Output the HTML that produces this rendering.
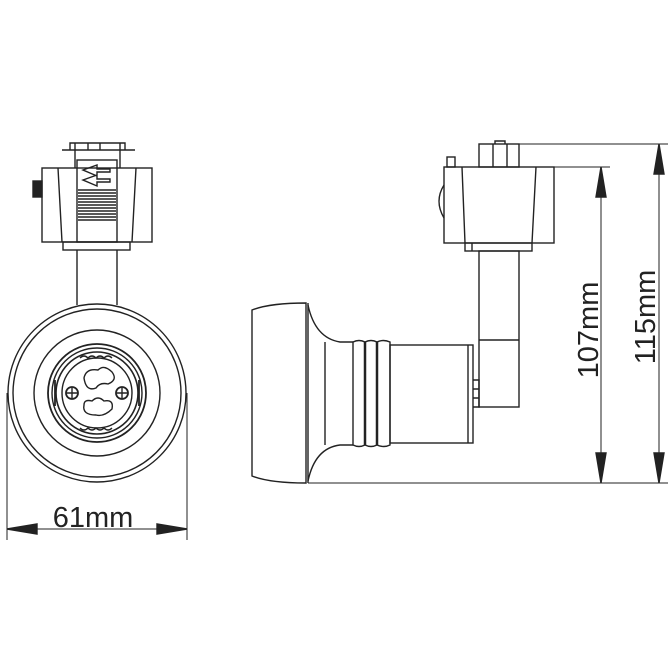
<!DOCTYPE html>
<html><head><style>body{margin:0;background:#fff}svg{display:block}</style></head><body>
<svg width="672" height="672" viewBox="0 0 672 672" xmlns="http://www.w3.org/2000/svg" fill="none" stroke="#222" stroke-width="1.4">
<!-- LEFT VIEW -->
<path d="M70 150 L70 143 L125 143 L125 150 M62 150 H135 M75 143 V168 M120 143 V168 M88 143 V150 M100 143 V150"/>
<rect x="42" y="168" width="110" height="74"/>
<path d="M58 168 L62 242 M136 168 L132 242"/>
<rect x="77" y="160" width="40" height="82"/>
<path d="M83 170 L97 165 V169 H110 V172 H97 V176 Z M83 180 L97 175 V179 H110 V182 H97 V186 Z"/>
<g stroke-width="1.6">
<path d="M78 190H116M78 193H116M78 196H116M78 199H116M78 202H116M78 205H116M78 208H116M78 211H116M78 214H116M78 217H116M78 220H116"/>
</g>
<rect x="33" y="181" width="9" height="16" fill="#222"/>
<rect x="63" y="242" width="67" height="8"/>
<path d="M77 250 V305 M117 250 V305"/>
<circle cx="97" cy="393" r="89"/>
<circle cx="97" cy="393" r="84"/>
<circle cx="97" cy="393" r="63"/>
<circle cx="97" cy="393" r="49" stroke-width="1.8"/>
<circle cx="97" cy="393" r="45"/>
<circle cx="97" cy="393" r="41" stroke-width="1.6"/>
<circle cx="97" cy="393" r="35"/>
<path d="M80 358 q4 -4 8 0 q4 -4 8 0 q4 -4 8 0 q4 -4 8 0 M80 428 q4 4 8 0 q4 4 8 0 q4 4 8 0 q4 4 8 0"/>
<path d="M84 378 q2 -10 14 -8 q6 -6 14 2 q6 8 -4 12 q-8 -2 -12 4 q-10 4 -12 -10 Z"/>
<path d="M84 405 q-2 10 12 10 q8 2 16 -6 q2 -10 -8 -8 q-6 -6 -12 0 q-8 -2 -8 4 Z"/>
<circle cx="72" cy="393" r="6" stroke-width="1.8"/><path d="M67 393H77M72 388V398"/>
<circle cx="122" cy="393" r="6" stroke-width="1.8"/><path d="M117 393H127M122 388V398"/>
<path d="M55 380V406M139 380V406" stroke-width="1.8"/>
<!-- 61mm dim -->
<path d="M7 393 V540 M187 393 V540 M7 529 H187" stroke-width="1"/>
<path d="M7 529 L37 524 L37 534 Z M187 529 L157 524 L157 534 Z" fill="#222"/>
<text x="93" y="527" font-family="Liberation Sans, sans-serif" font-size="29" fill="#222" stroke="none" text-anchor="middle">61mm</text>
<!-- RIGHT VIEW -->
<rect x="479" y="144" width="40" height="23"/>
<path d="M493 167 V144 M507 167 V144 M495 144 V141 H505 V144"/>
<rect x="447" y="157" width="8" height="10"/>
<rect x="444" y="167" width="110" height="76"/>
<path d="M462 167 L465 243 M536 167 L532 243"/>
<path d="M444 185 Q434 201 444 218"/>
<rect x="465" y="243" width="67" height="8"/>
<path d="M472 243V251"/>
<rect x="479" y="251" width="40" height="156"/>
<path d="M479 340 H519"/>
<path d="M473 380 H479 V407 H473 M473 389H479M473 398H479"/>
<path d="M252 310 Q270 303 306 303 V483 Q270 483 252 476 Z"/>
<path d="M308 303 V483"/>
<path d="M308 305 Q315 338 340 342 H353 M308 481 Q315 448 340 445 H353 M325 342 V445"/>
<path d="M353 342 q6 -3 12 0 q6 -3 12 0 q6 -3 13 0 V445 q-6 3 -13 0 q-6 3 -12 0 q-6 3 -12 0 Z"/>
<path d="M365 342V445M377 342V445" stroke-width="2.5"/>
<rect x="390" y="345" width="83" height="98"/>
<path d="M468 345 V443"/>
<!-- dims -->
<path d="M308 483 H668 M519 144 H668 M554 167 H610 M601 167 V483 M659 144 V483" stroke-width="1"/>
<path d="M601 167 L596 197 L606 197 Z M601 483 L596 453 L606 453 Z M659 144 L654 174 L664 174 Z M659 483 L654 453 L664 453 Z" fill="#222"/>
<text transform="translate(598 330) rotate(-90)" font-family="Liberation Sans, sans-serif" font-size="29" fill="#222" stroke="none" text-anchor="middle">107mm</text>
<text transform="translate(655 317) rotate(-90)" font-family="Liberation Sans, sans-serif" font-size="29" fill="#222" stroke="none" text-anchor="middle">115mm</text>
</svg>
</body></html>
